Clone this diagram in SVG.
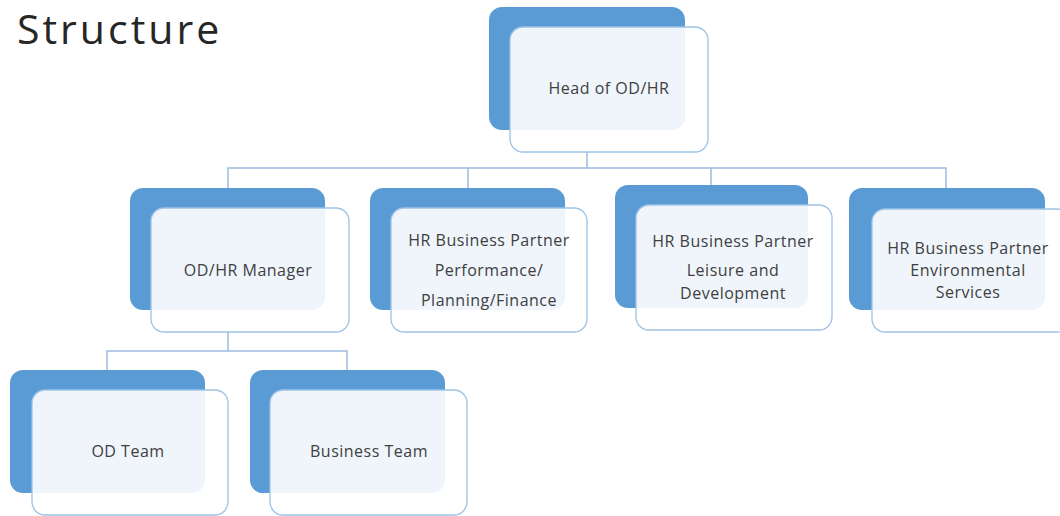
<svg xmlns="http://www.w3.org/2000/svg" width="1060" height="516" viewBox="0 0 1060 516">
  <style>
    .back { fill: #5B9BD5; }
    .front { fill: #FFFFFF; fill-opacity: 0.9; stroke: #9DC3E6; stroke-width: 1.3; }
    .label { font-family: "Open Sans", "Noto Sans", sans-serif; font-size: 16px; letter-spacing: 0.5px; fill: #404040; text-anchor: middle; }
    .title { font-family: "Open Sans", "Noto Sans", sans-serif; font-size: 41px; letter-spacing: 3px; fill: #262626; }
    .conn { fill: none; stroke: #9DBBE0; stroke-width: 1.5; }
  </style>
  <rect width="1060" height="516" fill="#FFFFFF"/>
  <text class="title" x="17" y="44">Structure</text>

  <g id="connectors">
    <path class="conn" d="M587,152 V168 M228,190 V168 H946 V190 M468,168 V190 M711,168 V187"/>
    <path class="conn" d="M228,332 V351 M107,372 V351 H347 V372"/>
  </g>

  <g id="head">
    <rect class="back" x="489" y="7" width="196" height="123" rx="13"/>
    <rect class="front" x="510" y="27" width="198" height="125" rx="13"/>
    <text class="label" x="609" y="94">Head of OD/HR</text>
  </g>

  <g id="manager">
    <rect class="back" x="130" y="188" width="195" height="122" rx="13"/>
    <rect class="front" x="151" y="208" width="198" height="124" rx="13"/>
    <text class="label" x="248" y="276">OD/HR Manager</text>
  </g>

  <g id="bp-performance">
    <rect class="back" x="370" y="188" width="195" height="122" rx="13"/>
    <rect class="front" x="391" y="208" width="196" height="124" rx="13"/>
    <text class="label" x="489" y="246">HR Business Partner</text>
    <text class="label" x="489" y="276">Performance/</text>
    <text class="label" x="489" y="306">Planning/Finance</text>
  </g>

  <g id="bp-leisure">
    <rect class="back" x="615" y="185" width="193" height="123" rx="13"/>
    <rect class="front" x="636" y="205" width="196" height="125" rx="13"/>
    <text class="label" x="733" y="247">HR Business Partner</text>
    <text class="label" x="733" y="276">Leisure and</text>
    <text class="label" x="733" y="299">Development</text>
  </g>

  <g id="bp-environmental">
    <rect class="back" x="849" y="188" width="196" height="122" rx="13"/>
    <rect class="front" x="872" y="209" width="198" height="123" rx="13"/>
    <text class="label" x="968" y="254">HR Business Partner</text>
    <text class="label" x="968" y="276">Environmental</text>
    <text class="label" x="968" y="298">Services</text>
  </g>

  <g id="od-team">
    <rect class="back" x="10" y="370" width="195" height="123" rx="13"/>
    <rect class="front" x="32" y="390" width="196" height="125" rx="13"/>
    <text class="label" x="128" y="457">OD Team</text>
  </g>

  <g id="business-team">
    <rect class="back" x="250" y="370" width="195" height="123" rx="13"/>
    <rect class="front" x="270" y="390" width="197" height="125" rx="13"/>
    <text class="label" x="369" y="457">Business Team</text>
  </g>
</svg>
